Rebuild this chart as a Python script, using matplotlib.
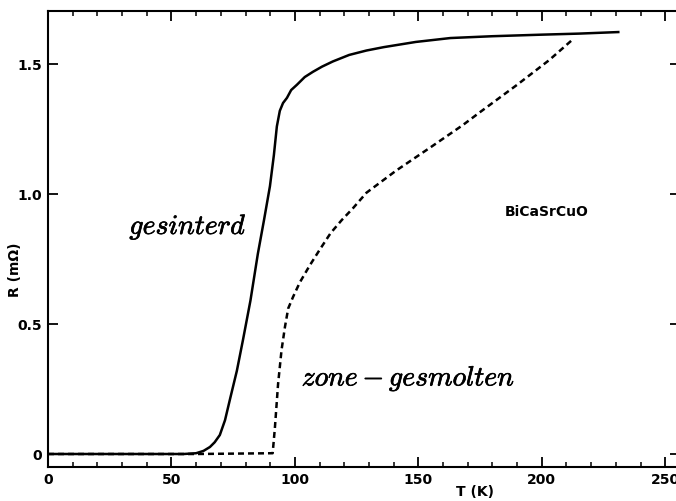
import matplotlib
matplotlib.use("Agg")
import matplotlib.pyplot as plt
import matplotlib.patheffects as pe
from matplotlib.ticker import MultipleLocator

plt.rcParams["mathtext.fontset"] = "cm"

# sintered sample (solid)
t_sint = [0, 55, 60, 63, 65.6, 67.5, 69.6, 71.7, 73.7, 76.5, 79, 82, 85,
          87.5, 89.9, 91.5, 92.7, 93.9, 95.2, 96.8, 98.5, 100.8, 104, 107.3,
          111, 115.4, 122, 129, 136, 149, 163, 180, 200, 215, 231]
r_sint = [0, 0, 0.003, 0.012, 0.027, 0.045, 0.073, 0.13, 0.21, 0.32, 0.44,
          0.59, 0.77, 0.90, 1.03, 1.15, 1.26, 1.32, 1.35, 1.37, 1.40, 1.42,
          1.45, 1.47, 1.49, 1.51, 1.535, 1.552, 1.565, 1.585, 1.60, 1.607,
          1.613, 1.617, 1.623]

# zone-melted sample (dashed)
t_zone = [0, 60, 91, 91.9, 93.2, 94.6, 96, 97.3, 99.3, 102, 106, 110, 114.5,
          119, 123.5, 129, 141, 155, 168, 175, 190, 203, 212]
r_zone = [0, 0, 0.003, 0.10, 0.27, 0.40, 0.49, 0.56, 0.605, 0.66, 0.725,
          0.785, 0.85, 0.90, 0.945, 1.005, 1.09, 1.18, 1.265, 1.315, 1.42,
          1.515, 1.59]

x_ticks = [0, 50, 100, 150, 200, 250]
y_ticks = [0, 0.5, 1.0, 1.5]
y_labels = ["0", "0.5", "1.0", "1.5"]

fig = plt.figure(figsize=(6.76, 5.01), dpi=100)
ax = fig.add_axes([48 / 676, 34 / 501, 632 / 676, 456 / 501])

ax.plot(t_zone, r_zone, color="black", lw=1.8, linestyle=(0, (2.4, 1.6)))
ax.plot(t_sint, r_sint, color="black", lw=1.8, solid_joinstyle="round")

ax.set_xlim(0, 256)
ax.set_ylim(-0.05, 1.704)

ax.set_xticks(x_ticks)
ax.xaxis.set_minor_locator(MultipleLocator(10))
ax.set_yticks(y_ticks)
ax.set_yticklabels(y_labels)

for s in ax.spines.values():
    s.set_linewidth(1.5)

ax.tick_params(which="major", direction="in", length=7.5, width=1.3,
               top=True, right=True, labelsize=10, pad=4)
ax.tick_params(which="minor", direction="in", length=3.6, width=1.1,
               top=True, right=False, left=False)
for lbl in ax.get_xticklabels() + ax.get_yticklabels():
    lbl.set_fontweight("bold")

# slightly heavier strokes for the italic labels
heavy = [pe.withStroke(linewidth=0.5, foreground="black")]
ax.text(56.7, 0.873, r"$gesinterd$", fontsize=20, ha="center", va="center",
        path_effects=heavy)
ax.text(146, 0.29, r"$zone-gesmolten$", fontsize=20, ha="center",
        va="center", path_effects=heavy)
ax.text(202, 0.93, "BiCaSrCuO", fontsize=10, fontweight="bold",
        ha="center", va="center")

fig.text(15 / 676, 1 - 270 / 501, "R (m\u03a9)", rotation=90, fontsize=10,
         fontweight="bold", ha="center", va="center")
fig.text(475 / 676, 1 - 492 / 501, "T (K)", fontsize=10, fontweight="bold",
         ha="center", va="center")

fig.savefig("out.png", dpi=100)
plt.close(fig)
